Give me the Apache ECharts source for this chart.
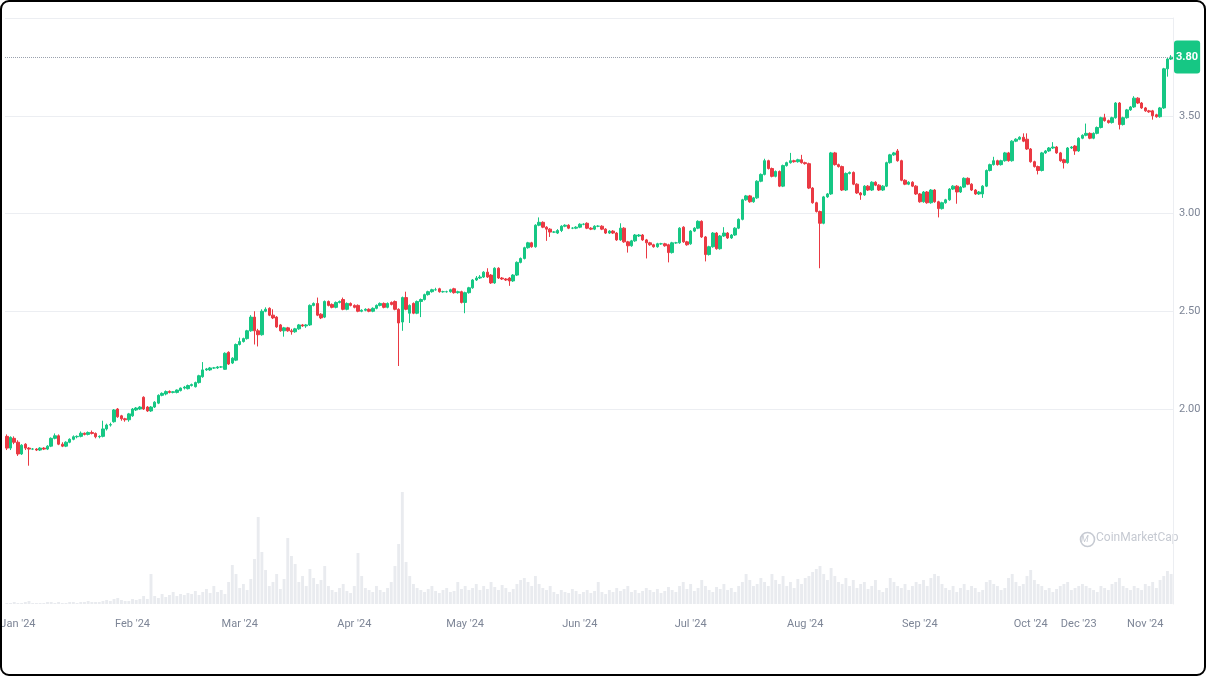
<!DOCTYPE html>
<html>
<head>
<meta charset="utf-8">
<script src="https://cdn.jsdelivr.net/npm/echarts@6/dist/echarts.min.js"></script>
<style>
html,body{margin:0;padding:0;background:#fff;}
#chart{position:absolute;left:0;top:0;width:1206px;height:676px;}
#frame{position:absolute;left:0;top:0;width:1206px;height:676px;box-sizing:border-box;border:2px solid #000;border-radius:9px;pointer-events:none;}
</style>
</head>
<body>
<div id="chart"></div>
<div id="frame"></div>
<script>
const opens = [
1.86,1.80,1.85,1.83,1.77,1.82,1.80,1.795,1.795,1.79,
1.80,1.795,1.81,1.85,1.863,1.82,1.81,1.83,1.845,1.858,
1.86,1.876,1.87,1.88,1.875,1.858,1.86,1.898,1.918,1.935,
2.00,1.965,1.95,1.945,1.965,1.995,2.00,2.06,2.01,1.99,
2.01,2.03,2.07,2.077,2.09,2.085,2.085,2.094,2.107,2.104,
2.12,2.114,2.135,2.165,2.20,2.20,2.21,2.21,2.215,2.203,
2.29,2.235,2.25,2.33,2.345,2.36,2.40,2.47,2.40,2.38,
2.50,2.515,2.48,2.47,2.43,2.40,2.415,2.40,2.395,2.41,
2.43,2.425,2.43,2.53,2.54,2.485,2.47,2.55,2.535,2.52,
2.545,2.56,2.51,2.54,2.53,2.53,2.50,2.505,2.51,2.50,
2.515,2.53,2.54,2.52,2.545,2.55,2.51,2.445,2.57,2.49,
2.54,2.49,2.55,2.56,2.585,2.60,2.61,2.615,2.60,2.60,
2.60,2.615,2.595,2.60,2.545,2.595,2.62,2.66,2.67,2.675,
2.70,2.685,2.645,2.72,2.67,2.665,2.67,2.655,2.685,2.75,
2.77,2.825,2.85,2.83,2.94,2.955,2.93,2.92,2.905,2.90,
2.913,2.935,2.94,2.925,2.925,2.93,2.945,2.95,2.925,2.92,
2.935,2.935,2.92,2.90,2.91,2.90,2.865,2.925,2.855,2.835,
2.86,2.885,2.89,2.865,2.85,2.84,2.83,2.845,2.845,2.84,
2.80,2.85,2.85,2.93,2.855,2.845,2.91,2.925,2.96,2.88,
2.79,2.83,2.90,2.82,2.885,2.90,2.875,2.89,2.925,2.97,
3.07,3.09,3.06,3.08,3.165,3.20,3.27,3.23,3.19,3.215,
3.14,3.245,3.26,3.27,3.265,3.275,3.26,3.255,3.13,3.055,
3.01,2.95,3.085,3.10,3.31,3.25,3.24,3.12,3.205,3.21,
3.15,3.105,3.095,3.14,3.12,3.16,3.145,3.12,3.14,3.26,
3.30,3.32,3.27,3.17,3.15,3.16,3.14,3.10,3.06,3.11,
3.055,3.12,3.06,3.025,3.055,3.07,3.125,3.14,3.11,3.135,
3.18,3.15,3.12,3.10,3.10,3.14,3.22,3.25,3.27,3.25,
3.27,3.31,3.27,3.37,3.38,3.39,3.38,3.33,3.265,3.24,
3.22,3.31,3.32,3.335,3.34,3.31,3.275,3.26,3.335,3.345,
3.32,3.385,3.40,3.41,3.385,3.41,3.44,3.49,3.475,3.465,
3.49,3.565,3.455,3.49,3.53,3.545,3.59,3.565,3.54,3.525,
3.525,3.505,3.495,3.54,3.74,3.79
];
const closes = [
1.80,1.855,1.83,1.77,1.815,1.80,1.795,1.795,1.79,1.80,
1.795,1.81,1.85,1.863,1.82,1.81,1.83,1.845,1.858,1.86,
1.876,1.87,1.88,1.875,1.858,1.86,1.898,1.918,1.92,1.995,
1.96,1.95,1.945,1.975,2.00,2.005,2.01,2.00,1.99,2.01,
2.035,2.07,2.08,2.089,2.085,2.088,2.097,2.107,2.112,2.12,
2.125,2.135,2.17,2.20,2.205,2.21,2.21,2.215,2.215,2.285,
2.23,2.26,2.33,2.345,2.36,2.40,2.47,2.40,2.38,2.50,
2.51,2.48,2.466,2.42,2.40,2.415,2.40,2.395,2.41,2.43,
2.425,2.43,2.53,2.54,2.48,2.466,2.55,2.53,2.52,2.545,
2.55,2.51,2.54,2.53,2.52,2.50,2.505,2.51,2.50,2.515,
2.53,2.54,2.52,2.54,2.535,2.51,2.44,2.57,2.51,2.53,
2.49,2.55,2.56,2.585,2.60,2.61,2.61,2.60,2.60,2.60,
2.61,2.595,2.60,2.545,2.595,2.62,2.66,2.67,2.675,2.70,
2.675,2.645,2.72,2.67,2.665,2.66,2.655,2.685,2.75,2.77,
2.825,2.85,2.83,2.94,2.955,2.93,2.92,2.905,2.905,2.913,
2.935,2.94,2.925,2.925,2.93,2.945,2.945,2.925,2.92,2.935,
2.935,2.92,2.90,2.91,2.90,2.865,2.925,2.855,2.835,2.86,
2.89,2.89,2.865,2.85,2.84,2.83,2.845,2.845,2.835,2.80,
2.85,2.85,2.925,2.855,2.84,2.91,2.925,2.96,2.88,2.79,
2.83,2.90,2.82,2.885,2.90,2.875,2.89,2.925,2.97,3.07,
3.09,3.06,3.08,3.165,3.20,3.27,3.23,3.19,3.215,3.14,
3.245,3.26,3.27,3.265,3.275,3.26,3.255,3.13,3.055,3.01,
2.95,3.085,3.10,3.31,3.25,3.24,3.12,3.205,3.21,3.15,
3.105,3.095,3.14,3.12,3.16,3.145,3.12,3.14,3.26,3.30,
3.31,3.27,3.17,3.15,3.16,3.14,3.10,3.06,3.11,3.055,
3.12,3.06,3.025,3.055,3.07,3.125,3.14,3.11,3.135,3.18,
3.15,3.12,3.10,3.11,3.14,3.22,3.25,3.27,3.25,3.27,
3.31,3.27,3.37,3.38,3.39,3.37,3.33,3.265,3.24,3.22,
3.31,3.32,3.335,3.34,3.31,3.27,3.26,3.335,3.34,3.32,
3.385,3.40,3.41,3.385,3.41,3.44,3.49,3.475,3.465,3.49,
3.565,3.455,3.49,3.53,3.545,3.59,3.565,3.54,3.525,3.52,
3.50,3.495,3.54,3.74,3.79,3.80
];
const lows = [
1.79,1.79,1.82,1.76,1.765,1.79,1.71,1.79,1.785,1.785,
1.79,1.79,1.805,1.845,1.815,1.805,1.805,1.825,1.84,1.85,
1.855,1.865,1.865,1.87,1.85,1.85,1.855,1.89,1.91,1.93,
1.955,1.94,1.935,1.935,1.96,1.99,1.995,1.995,1.985,1.985,
2.005,2.025,2.065,2.07,2.08,2.08,2.08,2.09,2.10,2.10,
2.115,2.11,2.13,2.16,2.195,2.195,2.205,2.205,2.21,2.20,
2.225,2.23,2.245,2.325,2.34,2.355,2.395,2.33,2.32,2.375,
2.495,2.475,2.46,2.415,2.395,2.37,2.395,2.38,2.39,2.405,
2.42,2.415,2.425,2.525,2.475,2.46,2.465,2.525,2.515,2.515,
2.54,2.505,2.505,2.525,2.515,2.495,2.495,2.50,2.495,2.495,
2.51,2.525,2.515,2.515,2.53,2.505,2.22,2.40,2.505,2.44,
2.485,2.485,2.47,2.555,2.58,2.595,2.605,2.595,2.595,2.595,
2.595,2.59,2.59,2.54,2.49,2.59,2.615,2.655,2.665,2.67,
2.67,2.64,2.64,2.665,2.66,2.655,2.63,2.65,2.68,2.745,
2.765,2.82,2.825,2.825,2.935,2.925,2.86,2.88,2.90,2.895,
2.905,2.93,2.92,2.92,2.92,2.925,2.94,2.92,2.915,2.915,
2.93,2.915,2.895,2.895,2.895,2.86,2.86,2.85,2.80,2.83,
2.855,2.88,2.86,2.77,2.835,2.825,2.825,2.84,2.83,2.75,
2.795,2.845,2.845,2.85,2.835,2.84,2.905,2.92,2.875,2.755,
2.785,2.825,2.815,2.815,2.88,2.87,2.87,2.885,2.92,2.965,
3.065,3.055,3.055,3.075,3.16,3.195,3.225,3.185,3.185,3.135,
3.135,3.24,3.255,3.26,3.26,3.255,3.25,3.125,3.05,3.005,
2.72,2.945,3.08,3.095,3.245,3.235,3.115,3.115,3.20,3.145,
3.10,3.07,3.09,3.115,3.115,3.14,3.115,3.115,3.135,3.255,
3.295,3.265,3.165,3.145,3.145,3.135,3.095,3.055,3.055,3.05,
3.05,3.055,2.98,3.02,3.05,3.065,3.12,3.05,3.105,3.13,
3.145,3.115,3.095,3.095,3.08,3.135,3.215,3.245,3.245,3.245,
3.265,3.265,3.265,3.365,3.375,3.365,3.325,3.26,3.235,3.20,
3.215,3.305,3.315,3.33,3.305,3.265,3.23,3.255,3.33,3.30,
3.315,3.38,3.395,3.38,3.38,3.405,3.435,3.47,3.46,3.46,
3.485,3.43,3.45,3.485,3.525,3.54,3.56,3.535,3.52,3.515,
3.48,3.49,3.49,3.535,3.70,3.785
];
const highs = [
1.87,1.86,1.86,1.84,1.82,1.825,1.805,1.80,1.80,1.805,
1.805,1.815,1.855,1.875,1.87,1.83,1.835,1.85,1.865,1.865,
1.885,1.88,1.885,1.89,1.88,1.865,1.94,1.925,1.93,2.00,
2.005,1.97,1.955,1.98,2.005,2.01,2.015,2.065,2.015,2.015,
2.04,2.075,2.085,2.095,2.095,2.092,2.10,2.11,2.118,2.125,
2.13,2.14,2.175,2.24,2.21,2.215,2.215,2.22,2.22,2.29,
2.295,2.265,2.335,2.365,2.365,2.405,2.48,2.50,2.41,2.51,
2.52,2.52,2.51,2.475,2.435,2.42,2.42,2.41,2.415,2.435,
2.435,2.435,2.535,2.545,2.57,2.49,2.555,2.555,2.54,2.55,
2.555,2.57,2.545,2.545,2.535,2.535,2.51,2.515,2.515,2.52,
2.535,2.545,2.545,2.545,2.55,2.555,2.515,2.575,2.60,2.535,
2.545,2.555,2.565,2.59,2.605,2.615,2.62,2.62,2.605,2.605,
2.615,2.62,2.605,2.605,2.60,2.625,2.665,2.68,2.685,2.705,
2.72,2.69,2.725,2.725,2.675,2.67,2.675,2.69,2.755,2.775,
2.83,2.855,2.855,2.945,2.98,2.96,2.935,2.925,2.91,2.92,
2.94,2.945,2.945,2.93,2.935,2.95,2.95,2.955,2.93,2.94,
2.94,2.94,2.925,2.915,2.915,2.905,2.95,2.93,2.86,2.865,
2.895,2.895,2.895,2.87,2.855,2.845,2.85,2.85,2.85,2.845,
2.855,2.855,2.93,2.935,2.86,2.915,2.93,2.965,2.965,2.885,
2.835,2.905,2.905,2.89,2.93,2.905,2.895,2.93,2.975,3.075,
3.095,3.095,3.085,3.17,3.205,3.28,3.275,3.235,3.22,3.22,
3.25,3.265,3.31,3.275,3.28,3.30,3.265,3.26,3.135,3.06,
3.015,3.09,3.105,3.315,3.315,3.255,3.245,3.21,3.215,3.215,
3.155,3.11,3.145,3.145,3.165,3.165,3.15,3.145,3.265,3.305,
3.315,3.33,3.275,3.175,3.165,3.165,3.145,3.105,3.115,3.115,
3.125,3.125,3.065,3.06,3.075,3.13,3.145,3.145,3.14,3.185,
3.185,3.155,3.125,3.115,3.145,3.225,3.255,3.29,3.275,3.275,
3.315,3.315,3.375,3.385,3.395,3.41,3.41,3.335,3.27,3.245,
3.315,3.325,3.34,3.365,3.345,3.315,3.28,3.34,3.345,3.35,
3.39,3.405,3.46,3.415,3.415,3.445,3.495,3.51,3.48,3.495,
3.57,3.57,3.495,3.535,3.55,3.60,3.595,3.57,3.545,3.53,
3.53,3.51,3.545,3.745,3.795,3.81
];
const volumes = [
1,1,2,1,1,2,3,1,1,1,
1,2,2,1,2,1,1,2,2,1,
2,2,3,2,2,2,3,4,3,5,
6,4,3,3,5,4,5,8,5,30,
8,6,10,7,9,12,8,10,9,11,
10,13,9,12,15,11,18,12,14,10,
22,39,30,16,20,14,25,45,87,52,
34,18,22,30,15,25,66,48,40,22,
28,18,35,26,20,24,38,18,14,12,
16,20,13,11,18,51,28,16,14,12,
18,14,12,16,22,38,60,112,42,28,
20,16,14,12,15,18,13,11,14,16,
12,13,22,15,18,14,16,20,14,18,
15,22,17,14,19,16,12,15,20,24,
26,22,18,28,20,16,14,18,12,10,
14,12,11,15,13,10,12,14,11,13,
22,12,10,14,12,16,13,15,18,12,
14,11,13,16,14,12,15,11,13,17,
14,12,18,22,15,20,13,16,24,18,
14,12,17,15,20,14,16,12,18,22,
30,24,18,20,26,22,18,30,24,20,
28,18,22,16,25,20,26,28,32,35,
38,30,24,36,28,22,20,26,18,24,
16,20,22,15,18,24,14,12,16,26,
22,18,16,20,14,18,22,20,24,18,
26,30,28,20,16,14,18,12,16,20,
14,18,16,12,14,22,24,20,18,14,
16,26,30,22,18,20,28,34,24,20,
18,14,16,12,15,18,20,22,14,16,
18,20,18,16,14,12,18,16,14,20,
22,26,18,16,14,18,16,14,20,18,
22,16,24,28,33,30
];
// x-axis tick labels and the candle index each one sits under
const tickLabels = ["Jan '24","Feb '24","Mar '24","Apr '24","May '24","Jun '24","Jul '24","Aug '24","Sep '24","Oct '24","Dec '23","Nov '24"];
const tickIndex  = [3, 34, 63, 94, 124, 155, 185, 216, 247, 277, 290, 308];
const lastPrice = 3.80;

const n = closes.length;
const categories = [];
for (let i = 0; i < n; i++) categories.push(String(i));
const ohlc = [];
for (let i = 0; i < n; i++) ohlc.push([opens[i], closes[i], lows[i], highs[i]]);
const tickMap = {};
tickIndex.forEach((k, j) => { tickMap[k] = tickLabels[j]; });

const UP = '#16c784', DOWN = '#ea3943';
const FONT = "Roboto, 'Liberation Sans', sans-serif";
const GRIDC = '#eceef2';

const chart = echarts.init(document.getElementById('chart'), null, {renderer: 'canvas'});
chart.setOption({
  animation: false,
  backgroundColor: '#fff',
  grid: [
    {left: 5, right: 33, top: 18, height: 391, containLabel: false, outerBoundsMode: 'none'},
    {left: 5, right: 33, top: 409, height: 195, containLabel: false, outerBoundsMode: 'none'}
  ],
  xAxis: [
    {type: 'category', gridIndex: 0, data: categories, boundaryGap: true, show: false},
    {type: 'category', gridIndex: 1, data: categories, boundaryGap: true,
     axisLine: {show: false}, axisTick: {show: false}, splitLine: {show: false},
     axisLabel: {
       interval: (idx) => tickMap[idx] !== undefined,
       formatter: (v, idx) => tickMap[idx] || '',
       color: '#7d8596', fontSize: 11, fontFamily: FONT, margin: 15, hideOverlap: false
     }}
  ],
  yAxis: [
    {type: 'value', gridIndex: 0, position: 'right', min: 2, max: 4, interval: 0.5,
     axisLine: {show: true, lineStyle: {color: GRIDC}}, axisTick: {show: false},
     splitLine: {show: true, lineStyle: {color: GRIDC, width: 1}},
     axisLabel: {color: '#7d8596', fontSize: 11, fontFamily: FONT, margin: 6,
       showMaxLabel: false, formatter: (v) => v.toFixed(2)}},
    {type: 'value', gridIndex: 1, position: 'right', min: 0, max: 195,
     axisLine: {show: true, lineStyle: {color: GRIDC}}, axisTick: {show: false},
     splitLine: {show: false}, axisLabel: {show: false}}
  ],
  series: [
    {
      type: 'bar', xAxisIndex: 1, yAxisIndex: 1, data: volumes,
      barWidth: '78%', itemStyle: {color: '#e9ebef'}, silent: true
    },
    {
      type: 'candlestick', xAxisIndex: 0, yAxisIndex: 0, data: ohlc,
      clip: false, barWidth: 3,
      itemStyle: {color: UP, color0: DOWN, borderColor: UP, borderColor0: DOWN, borderWidth: 1},
      markLine: {
        silent: true, symbol: ['none', 'none'], animation: false,
        lineStyle: {type: 'dotted', color: '#9aa1ad', width: 1},
        label: {
          position: 'end', distance: 1, formatter: () => lastPrice.toFixed(2),
          backgroundColor: UP, color: '#fff', padding: [11, 2, 11, 2], borderRadius: 3,
          fontSize: 11, fontWeight: 'bold', fontFamily: FONT
        },
        data: [{yAxis: lastPrice}]
      }
    }
  ],
  graphic: [
    {type: 'circle', left: 1078, top: 530, shape: {r: 7}, style: {fill: 'none', stroke: '#c6cad2', lineWidth: 1.6}, silent: true},
    {type: 'text', left: 1081, top: 535, style: {text: 'M', fill: '#c6cad2', font: "italic 9px " + FONT}, silent: true},
    {type: 'text', left: 1096, top: 532, style: {text: 'CoinMarketCap', fill: '#c6cad2', font: "12px " + FONT}, silent: true}
  ]
});
</script>
</body>
</html>
